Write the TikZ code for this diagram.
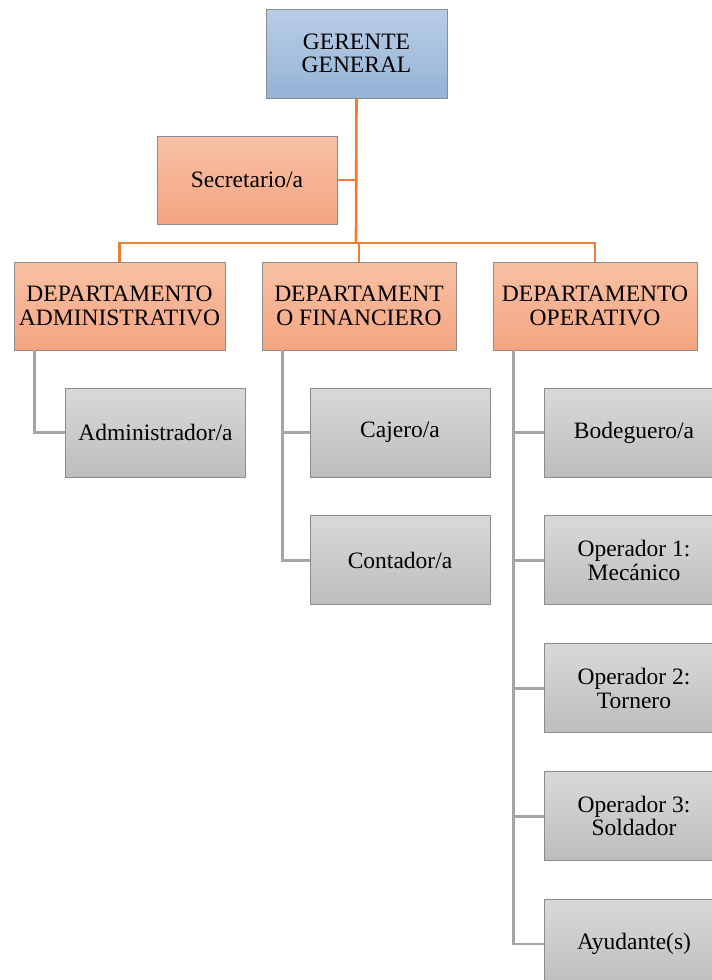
\documentclass[tikz,border=0pt]{standalone}
\usepackage{fontspec}
\setmainfont{Liberation Serif}
\usepackage{xcolor}
\usetikzlibrary{positioning, calc}
\definecolor{headtop}{HTML}{B9CDE5}
\definecolor{headbot}{HTML}{95B3D7}
\definecolor{depttop}{HTML}{F8C1A4}
\definecolor{deptbot}{HTML}{F4A582}
\definecolor{subtop}{HTML}{D9D9D9}
\definecolor{subbot}{HTML}{BDBDBD}
\definecolor{orgorange}{HTML}{ED7D31}
\definecolor{orggray}{HTML}{A5A5A5}
\definecolor{boxedge}{HTML}{8C8C8C}
\tikzset{
    orgchart/.style={x=1pt, y=-1pt, font=\fontsize{23.5}{23.5}\selectfont},
    box/.style={draw=boxedge, line width=0.9pt, align=center, inner sep=0pt},
    headbox/.style={box, top color=headtop, bottom color=headbot, minimum width=181pt, minimum height=89pt},
    deptbox/.style={box, top color=depttop, bottom color=deptbot, minimum height=88pt},
    staffbox/.style={box, top color=subtop, bottom color=subbot, minimum width=180pt, minimum height=89pt},
    % connectors: orange for the upper levels, gray inside each department
    mainline/.style={draw=orgorange, line width=2.6pt},
    subline/.style={draw=orggray, line width=2.6pt},
}
\begin{document}
\begin{tikzpicture}[orgchart, node distance=38pt]
    \useasboundingbox (0,0) rectangle (712,980);
    \clip (0,0) rectangle (712,980);
    \node[headbox]                          (gerente)  at (356.5,53.5) {GERENTE\\GENERAL};
    \node[deptbox, minimum width=180pt]     (secret)   at (247,180)    {Secretario/a};
    \node[deptbox, minimum width=211pt]     (admin)    at (119.5,306)  {DEPARTAMENTO\\ADMINISTRATIVO};
    \node[deptbox, minimum width=194pt]     (finan)    at (359,306)    {DEPARTAMENT\\O FINANCIERO};
    \node[deptbox, minimum width=204pt]     (oper)     at (595,306)    {DEPARTAMENTO\\OPERATIVO};

    \node[staffbox]                         (adminis)  at (155.5,432.5) {Administrador/a};
    \node[staffbox]                         (cajero)   at (400,432.5)   {Cajero/a};
    \node[staffbox, below=of cajero]        (contador) {Contador/a};

    \node[staffbox]                         (bodega)   at (634,432.5)   {Bodeguero/a};
    \node[staffbox, below=of bodega]        (mecan)    {Operador 1:\\Mecánico};
    \node[staffbox, below=of mecan]         (torne)    {Operador 2:\\Tornero};
    \node[staffbox, below=of torne]         (solda)    {Operador 3:\\Soldador};
    \node[staffbox, below=of solda]         (ayuda)    {Ayudante(s)};

    % upper levels
    \coordinate (bar) at (356,243);
    \draw[mainline] (gerente.south) -- (bar);
    \draw[mainline] (secret.east) -- (secret.east -| bar);
    \draw[mainline] (admin.north) |- (bar) -| (oper.north);
    \draw[mainline] (finan.north) -- (finan.north |- bar);

    % department stems
    \draw[subline] ([xshift=21pt]admin.south west) |- (adminis.west);
    \coordinate (finstem) at ([xshift=21pt]finan.south west);
    \draw[subline] (finstem) |- (contador.west);
    \draw[subline] (cajero.west -| finstem) -- (cajero.west);
    \coordinate (stem) at ([xshift=21pt]oper.south west);
    \draw[subline] (stem) |- (ayuda.west);
    \foreach \n in {bodega, mecan, torne, solda}
        \draw[subline] (\n.west -| stem) -- (\n.west);
\end{tikzpicture}
\end{document}
